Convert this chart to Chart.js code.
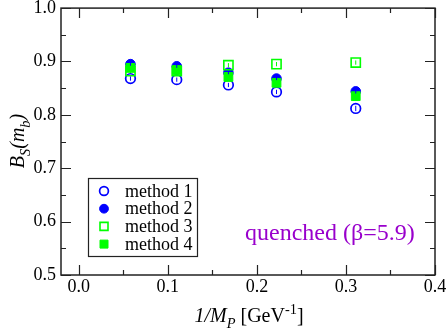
<!DOCTYPE html>
<html>
<head>
<meta charset="utf-8">
<script src="https://cdn.jsdelivr.net/npm/chart.js@4.4.1/dist/chart.umd.min.js"></script>
<style>
  html, body { margin: 0; padding: 0; background: #fff; }
  #wrap { width: 447px; height: 334px; position: relative; }
</style>
</head>
<body>
<div id="wrap"><canvas id="chart" width="447" height="334"></canvas></div>
<script>
// data
const xValues = [0.058, 0.110, 0.168, 0.222, 0.311];
const method1 = [0.868, 0.866, 0.856, 0.843, 0.812];
const method2 = [0.895, 0.891, 0.879, 0.868, 0.844];
const method3 = [0.882, 0.882, 0.893, 0.895, 0.898];
const method4 = [0.888, 0.884, 0.871, 0.860, 0.835];
const err1 = [0.004, 0.004, 0.004, 0.004, 0.005];
const err2 = [0.003, 0.003, 0.003, 0.003, 0.004];
const err3 = [0.004, 0.004, 0.004, 0.004, 0.004];
const err4 = [0.003, 0.003, 0.003, 0.003, 0.004];
const seriesNames = ["method 1", "method 2", "method 3", "method 4"];
const xTickLabels = [0.0, 0.1, 0.2, 0.3, 0.4];
const yTickLabels = [0.5, 0.6, 0.7, 0.8, 0.9, 1.0];
const noteText = "quenched (\u03b2=5.9)";

const FONT = "'Liberation Serif', 'DejaVu Serif', serif";
const BLUE = "#0000ff";
const GREEN = "#00ff00";

function pts(ys, es) {
  return xValues.map((x, i) => ({ x: x, y: ys[i], e: es[i] }));
}

const datasets = [
  { label: seriesNames[0], data: pts(method1, err1), pointStyle: "circle", pointRadius: 4.8,
    borderColor: BLUE, backgroundColor: "rgba(0,0,0,0)", borderWidth: 1.7, order: 4 },
  { label: seriesNames[1], data: pts(method2, err2), pointStyle: "circle", pointRadius: 4.8,
    borderColor: BLUE, backgroundColor: BLUE, borderWidth: 1, order: 3 },
  { label: seriesNames[2], data: pts(method3, err3), pointStyle: "rect", pointRadius: 6.5,
    borderColor: GREEN, backgroundColor: "rgba(0,0,0,0)", borderWidth: 1.6, order: 2 },
  { label: seriesNames[3], data: pts(method4, err4), pointStyle: "rect", pointRadius: 6.2,
    borderColor: GREEN, backgroundColor: GREEN, borderWidth: 1, order: 1 }
];

// draw text made of runs (italic / sub / sup)
function richText(ctx, runs, x, y, size, align) {
  const w = runs.map(r => {
    ctx.font = (r.it ? "italic " : "") + (r.s ? size * 0.72 : size) + "px " + FONT;
    return ctx.measureText(r.t).width;
  });
  const total = w.reduce((a, b) => a + b, 0);
  let cx = align === "center" ? x - total / 2 : x;
  runs.forEach((r, i) => {
    ctx.font = (r.it ? "italic " : "") + (r.s ? size * 0.72 : size) + "px " + FONT;
    const dy = r.s === "sub" ? size * 0.3 : (r.s === "sup" ? -size * 0.38 : 0);
    ctx.fillText(r.t, cx, y + dy);
    cx += w[i];
  });
}

const framePlugin = {
  id: "frame",
  afterDatasetsDraw(chart) {
    const ctx = chart.ctx;
    const xs = chart.scales.x, ys = chart.scales.y;
    const a = chart.chartArea;
    ctx.save();
    // error bars
    chart.data.datasets.forEach(ds => {
      ctx.strokeStyle = ds.borderColor;
      ctx.lineWidth = 1;
      ds.data.forEach(p => {
        const px = xs.getPixelForValue(p.x);
        ctx.beginPath();
        ctx.moveTo(px, ys.getPixelForValue(p.y - p.e));
        ctx.lineTo(px, ys.getPixelForValue(p.y + p.e));
        ctx.stroke();
      });
    });
    // frame and inward ticks
    ctx.strokeStyle = "#222";
    ctx.lineWidth = 1.5;
    ctx.strokeRect(a.left, a.top, a.right - a.left, a.bottom - a.top);
    ctx.lineWidth = 1.2;
    ctx.beginPath();
    for (let v = 0; v <= 0.4001; v += 0.05) {
      const px = Math.round(xs.getPixelForValue(v)) + 0.5;
      const len = Math.abs(v * 10 - Math.round(v * 10)) < 1e-6 ? 10 : 5;
      ctx.moveTo(px, a.bottom); ctx.lineTo(px, a.bottom - len);
      ctx.moveTo(px, a.top); ctx.lineTo(px, a.top + len);
    }
    for (let v = 0.5; v <= 1.0001; v += 0.05) {
      const py = Math.round(ys.getPixelForValue(v)) + 0.5;
      const len = Math.abs(v * 10 - Math.round(v * 10)) < 1e-6 ? 10 : 5;
      ctx.moveTo(a.left, py); ctx.lineTo(a.left + len, py);
      ctx.moveTo(a.right, py); ctx.lineTo(a.right - len, py);
    }
    ctx.stroke();

    // legend box
    const lx = 88, ly = 178, lw = 109, lh = 78;
    ctx.fillStyle = "#fff";
    ctx.fillRect(lx, ly, lw, lh);
    ctx.strokeStyle = "#222";
    ctx.lineWidth = 1.2;
    ctx.strokeRect(lx + 0.5, ly + 0.5, lw, lh);
    chart.data.datasets.forEach((ds, i) => {
      const my = ly + 13 + i * 17.7;
      const mx = lx + 16;
      ctx.strokeStyle = ds.borderColor;
      ctx.fillStyle = ds.backgroundColor;
      ctx.lineWidth = ds.borderWidth;
      ctx.beginPath();
      if (ds.pointStyle === "circle") {
        ctx.arc(mx, my, 4.4, 0, Math.PI * 2);
      } else {
        ctx.rect(mx - 4, my - 4, 8, 8);
      }
      ctx.fill();
      ctx.stroke();
      ctx.fillStyle = "#000";
      ctx.font = "18px " + FONT;
      ctx.textBaseline = "middle";
      ctx.textAlign = "left";
      ctx.fillText(ds.label, lx + 37, my + 1);
    });

    // annotation
    ctx.fillStyle = "#9900cc";
    ctx.font = "24px " + FONT;
    ctx.textBaseline = "alphabetic";
    ctx.textAlign = "left";
    ctx.fillText(noteText, 245, 240);

    // axis titles
    ctx.fillStyle = "#000";
    richText(ctx, [
      { t: "1/M", it: true }, { t: "P", it: true, s: "sub" },
      { t: " [GeV" }, { t: "-1", s: "sup" }, { t: "]" }
    ], 249, 322, 20, "center");
    ctx.translate(24, 141);
    ctx.rotate(-Math.PI / 2);
    richText(ctx, [
      { t: "B", it: true }, { t: "S", it: true, s: "sub" },
      { t: "(m", it: true }, { t: "b", it: true, s: "sub" }, { t: ")", it: true }
    ], 0, 0, 20, "center");
    ctx.restore();
  }
};

new Chart(document.getElementById("chart"), {
  type: "scatter",
  data: { datasets: datasets },
  options: {
    responsive: false,
    animation: false,
    layout: { padding: { top: 7, right: 12, left: 0, bottom: 0 } },
    plugins: { legend: { display: false }, tooltip: { enabled: false } },
    scales: {
      x: {
        type: "linear", min: -0.02, max: 0.4,
        afterBuildTicks: s => { s.ticks = xTickLabels.map(v => ({ value: v })); },
        afterFit: s => { s.height = 59; s.paddingLeft = 0; s.paddingRight = 0; },
        ticks: { color: "#000", padding: 1, maxRotation: 0,
          font: { family: FONT, size: 18 }, callback: v => Number(v).toFixed(1) },
        grid: { display: false, drawTicks: false },
        border: { display: false }
      },
      y: {
        type: "linear", min: 0.5, max: 1.0,
        afterBuildTicks: s => { s.ticks = yTickLabels.map(v => ({ value: v })); },
        afterFit: s => { s.width = 61; s.paddingTop = 0; s.paddingBottom = 0; },
        ticks: { color: "#000", padding: 5,
          font: { family: FONT, size: 18 }, callback: v => Number(v).toFixed(1) },
        grid: { display: false, drawTicks: false },
        border: { display: false }
      }
    }
  },
  plugins: [framePlugin]
});
</script>
</body>
</html>
